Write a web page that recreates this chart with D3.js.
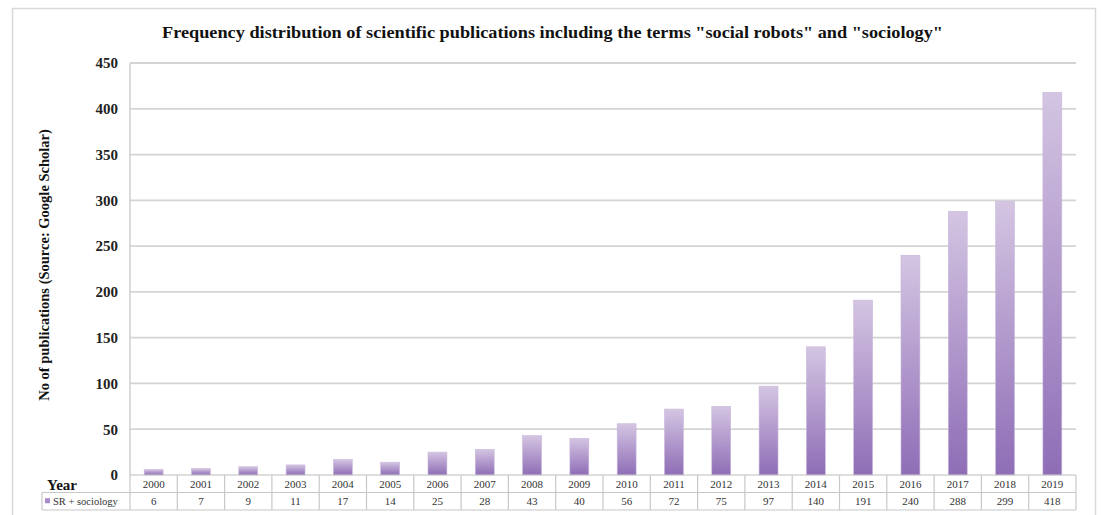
<!DOCTYPE html>
<html>
<head>
<meta charset="utf-8">
<script src="https://cdn.jsdelivr.net/npm/d3@7"></script>
<style>
  html, body { margin: 0; padding: 0; background: #fff; }
  svg { display: block; }
</style>
</head>
<body>
<svg id="chart" width="1102" height="515"></svg>
<script>
// Publications per year containing "social robots" and "sociology"
const years = ["2000","2001","2002","2003","2004","2005","2006","2007","2008","2009",
               "2010","2011","2012","2013","2014","2015","2016","2017","2018","2019"];
const counts = [6, 7, 9, 11, 17, 14, 25, 28, 43, 40, 56, 72, 75, 97, 140, 191, 240, 288, 299, 418];
const yTicks = [0, 50, 100, 150, 200, 250, 300, 350, 400, 450];
const seriesName = "SR + sociology";
const titleText = 'Frequency distribution of scientific publications including the terms "social robots" and "sociology"';
const yTitle = "No of publications (Source: Google Scholar)";

const svg = d3.select("#chart");
const serif = "'Liberation Serif', 'DejaVu Serif', serif";

const plot = { left: 130, right: 1076, top: 63, bottom: 475 };
const rowH = 17.5;

const x = d3.scaleBand().domain(years).range([plot.left, plot.right]).paddingInner(0.6).paddingOuter(0.3);
const cell = d3.scaleBand().domain(years).range([plot.left, plot.right]);
const y = d3.scaleLinear().domain([0, 450]).range([plot.bottom, plot.top]);

// outer frame
svg.append("rect").attr("x", 12.5).attr("y", 8.5).attr("width", 1083).attr("height", 520)
  .attr("fill", "#fff").attr("stroke", "#d9d9d9").attr("stroke-width", 1.5);

// gradient for bars
const defs = svg.append("defs");
const grad = defs.append("linearGradient").attr("id", "barGrad")
  .attr("x1", 0).attr("y1", 0).attr("x2", 0).attr("y2", 1);
grad.append("stop").attr("offset", "0%").attr("stop-color", "#d4c5e2");
grad.append("stop").attr("offset", "100%").attr("stop-color", "#8e6db6");

// title
svg.append("text").attr("x", 552.5).attr("y", 38).attr("text-anchor", "middle")
  .attr("font-family", serif).attr("font-weight", "bold").attr("font-size", 16.5)
  .attr("textLength", 781).attr("lengthAdjust", "spacingAndGlyphs")
  .attr("fill", "#111").text(titleText);

// gridlines
svg.append("g").selectAll("line").data(yTicks.filter(d => d > 0)).join("line")
  .attr("x1", plot.left).attr("x2", plot.right)
  .attr("y1", d => y(d)).attr("y2", d => y(d))
  .attr("stroke", "#d4d4d4").attr("stroke-width", 1.8);

// y axis via d3.axisLeft (line hidden, labels only)
const yAxis = svg.append("g").attr("transform", `translate(${plot.left - 12},0)`)
  .call(d3.axisLeft(y).tickValues(yTicks).tickSize(0).tickPadding(0));
yAxis.select(".domain").remove();
yAxis.selectAll("text").attr("font-family", serif).attr("font-weight", "bold")
  .attr("font-size", 15).attr("fill", "#222");

// left axis line
svg.append("line").attr("x1", plot.left).attr("x2", plot.left)
  .attr("y1", plot.top).attr("y2", plot.bottom).attr("stroke", "#cfcfcf").attr("stroke-width", 1.5);

// y title
svg.append("text").attr("transform", `translate(49,265) rotate(-90)`)
  .attr("text-anchor", "middle").attr("font-family", serif).attr("font-weight", "bold")
  .attr("font-size", 14.5).attr("fill", "#111").text(yTitle);

// bars
svg.append("g").selectAll("rect").data(years).join("rect")
  .attr("x", d => x(d)).attr("width", x.bandwidth())
  .attr("y", (d, i) => y(counts[i])).attr("height", (d, i) => y(0) - y(counts[i]))
  .attr("fill", "url(#barGrad)").attr("stroke", "#c9b8dc").attr("stroke-width", 0.6);

// data table beneath the axis
const tbl = svg.append("g");
const gridColor = "#c8c8c8";
// horizontal lines
[plot.bottom, plot.bottom + rowH, plot.bottom + 2 * rowH].forEach((yy, i) => {
  tbl.append("line").attr("x1", i === 0 ? plot.left : 42).attr("x2", plot.right)
    .attr("y1", yy).attr("y2", yy).attr("stroke", i === 0 ? "#bdbdbd" : gridColor).attr("stroke-width", 1.2);
});
// vertical lines
const vxs = years.map(d => cell(d)).concat([plot.right]);
tbl.selectAll("line.v").data(vxs).join("line").attr("class", "v")
  .attr("x1", d => d).attr("x2", d => d)
  .attr("y1", plot.bottom).attr("y2", plot.bottom + 2 * rowH)
  .attr("stroke", gridColor).attr("stroke-width", 1.2);
tbl.append("line").attr("x1", 42).attr("x2", 42)
  .attr("y1", plot.bottom + rowH).attr("y2", plot.bottom + 2 * rowH)
  .attr("stroke", gridColor).attr("stroke-width", 1.2);

// year labels
tbl.selectAll("text.yr").data(years).join("text").attr("class", "yr")
  .attr("x", d => cell(d) + cell.bandwidth() / 2).attr("y", plot.bottom + rowH / 2 + 4)
  .attr("text-anchor", "middle").attr("font-family", serif).attr("font-size", 11)
  .attr("fill", "#333").text(d => d);
// values
tbl.selectAll("text.val").data(years).join("text").attr("class", "val")
  .attr("x", d => cell(d) + cell.bandwidth() / 2).attr("y", plot.bottom + rowH * 1.5 + 4)
  .attr("text-anchor", "middle").attr("font-family", serif).attr("font-size", 11)
  .attr("fill", "#333").text((d, i) => counts[i]);

// row headers
tbl.append("text").attr("x", 47).attr("y", plot.bottom + 15).attr("font-family", serif)
  .attr("font-weight", "bold").attr("font-size", 15).attr("fill", "#111").text("Year");
tbl.append("rect").attr("x", 45).attr("y", plot.bottom + rowH * 1.5 - 3).attr("width", 5).attr("height", 5)
  .attr("fill", "#a58cc8");
tbl.append("text").attr("x", 53).attr("y", plot.bottom + rowH * 1.5 + 4).attr("font-family", serif)
  .attr("font-size", 10.5).attr("fill", "#333").text(seriesName);
</script>
</body>
</html>
